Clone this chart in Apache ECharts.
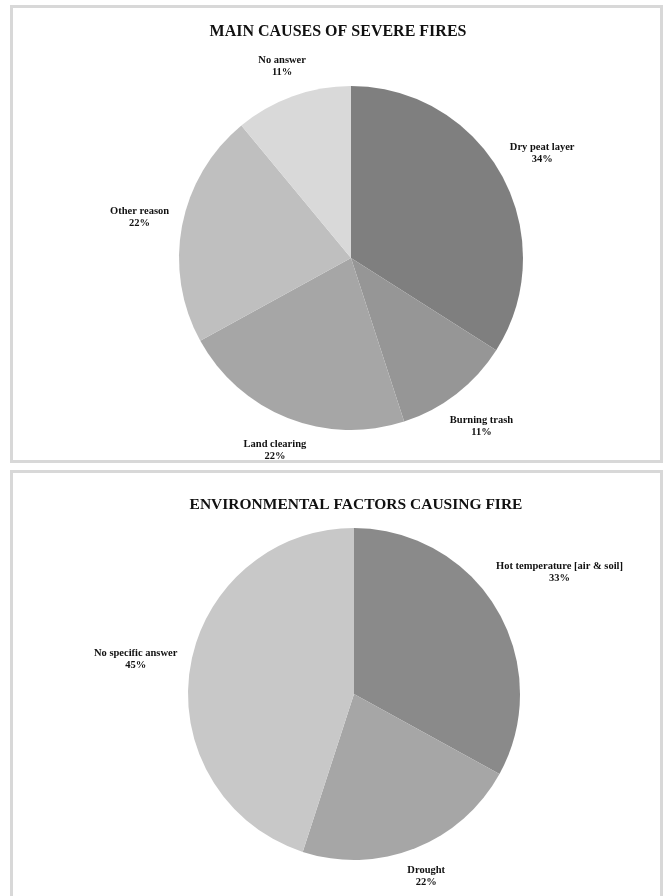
<!DOCTYPE html>
<html>
<head>
<meta charset="utf-8">
<script src="https://cdn.jsdelivr.net/npm/echarts@6/dist/echarts.min.js"></script>
<style>
html,body{margin:0;padding:0;background:#fff;}
#chart{width:666px;height:896px;}
</style>
</head>
<body>
<div id="chart"></div>
<script>
const title1 = 'MAIN CAUSES OF SEVERE FIRES';
const causeNames = ['Dry peat layer', 'Burning trash', 'Land clearing', 'Other reason', 'No answer'];
const causeValues = [34, 11, 22, 22, 11];
const causeColors = ['#7f7f7f', '#969696', '#a6a6a6', '#bfbfbf', '#d9d9d9'];

const title2 = 'ENVIRONMENTAL FACTORS CAUSING FIRE';
const factorNames = ['Hot temperature [air & soil]', 'Drought', 'No specific answer'];
const factorValues = [33, 22, 45];
const factorColors = ['#8a8a8a', '#a6a6a6', '#c8c8c8'];

const FONT = '"Liberation Serif", "Times New Roman", serif';

const PIE1 = { c: [351, 258], r: 172 };
const PIE2 = { c: [354, 694], r: 166 };
const GAP = 9;

function toData(names, values, colors) {
  return names.map((n, i) => ({ name: n, value: values[i], itemStyle: { color: colors[i] } }));
}
function toLabelData(names, values) {
  return names.map((n, i) => ({ name: n, value: values[i] }));
}

const labelStyle = {
  show: true,
  position: 'inside',
  formatter: '{b}\n{c}%',
  fontFamily: FONT,
  fontWeight: 'bold',
  fontSize: 10.5,
  lineHeight: 12,
  color: '#111'
};

// push each label outward so its near edge sits just outside the pie
function edgeLayout(pie) {
  return function (params) {
    const r = params.labelRect;
    const cx = r.x + r.width / 2, cy = r.y + r.height / 2;
    let ux = cx - pie.c[0], uy = cy - pie.c[1];
    const len = Math.sqrt(ux * ux + uy * uy) || 1;
    ux /= len; uy /= len;
    const extra = (r.width / 2) * Math.abs(ux) + (r.height / 2) * Math.abs(uy);
    return { x: cx + ux * extra, y: cy + uy * extra, align: 'center', verticalAlign: 'middle' };
  };
}

const chart = echarts.init(document.getElementById('chart'), null, { renderer: 'canvas' });
chart.setOption({
  animation: false,
  backgroundColor: '#ffffff',
  graphic: [
    { type: 'rect', shape: { x: 11.5, y: 6.5, width: 650, height: 455 }, style: { fill: 'none', stroke: '#d8d8d8', lineWidth: 3 }, z: -1 },
    { type: 'rect', shape: { x: 11.5, y: 471.5, width: 650, height: 440 }, style: { fill: 'none', stroke: '#d8d8d8', lineWidth: 3 }, z: -1 }
  ],
  title: [
    { text: title1, left: 333, top: 19, textAlign: 'center',
      textStyle: { fontFamily: FONT, fontWeight: 'bold', fontSize: 16, color: '#111' } },
    { text: title2, left: 351, top: 492, textAlign: 'center',
      textStyle: { fontFamily: FONT, fontWeight: 'bold', fontSize: 15.5, color: '#111' } }
  ],
  series: [
    {
      type: 'pie', center: PIE1.c, radius: [0, PIE1.r], startAngle: 90, clockwise: true,
      silent: true, label: { show: false }, labelLine: { show: false },
      itemStyle: { borderWidth: 0 },
      data: toData(causeNames, causeValues, causeColors)
    },
    {
      type: 'pie', center: PIE1.c, radius: [PIE1.r + GAP - 2, PIE1.r + GAP + 2], startAngle: 90, clockwise: true,
      silent: true, itemStyle: { color: 'rgba(0,0,0,0)', borderWidth: 0 },
      label: labelStyle, labelLine: { show: false },
      labelLayout: edgeLayout(PIE1),
      data: toLabelData(causeNames, causeValues)
    },
    {
      type: 'pie', center: PIE2.c, radius: [0, PIE2.r], startAngle: 90, clockwise: true,
      silent: true, label: { show: false }, labelLine: { show: false },
      itemStyle: { borderWidth: 0 },
      data: toData(factorNames, factorValues, factorColors)
    },
    {
      type: 'pie', center: PIE2.c, radius: [PIE2.r + GAP - 2, PIE2.r + GAP + 2], startAngle: 90, clockwise: true,
      silent: true, itemStyle: { color: 'rgba(0,0,0,0)', borderWidth: 0 },
      label: labelStyle, labelLine: { show: false },
      labelLayout: edgeLayout(PIE2),
      data: toLabelData(factorNames, factorValues)
    }
  ]
});
</script>
</body>
</html>
